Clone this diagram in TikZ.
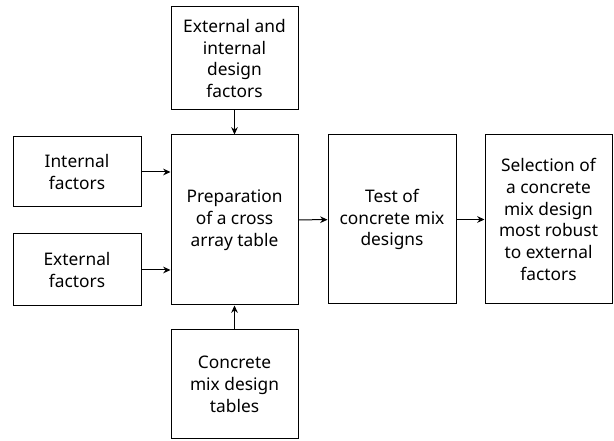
\documentclass[tikz,border=0pt]{standalone}
\usepackage{fontspec}
\setmainfont{Noto Sans}
\usepackage{tikz}
\usetikzlibrary{arrows.meta, calc}
\tikzset{
    block/.style={draw, line width=0.75pt, align=center, inner sep=0pt,
        font=\fontsize{13}{16.3}\selectfont},
    flow/.style={line width=0.75pt, -{Stealth[length=5.5pt, width=5pt]}}
}

\begin{document}
\begin{tikzpicture}[x=0.75pt, y=-0.75pt]
            \useasboundingbox (0,0) rectangle (614,441);

            % left inputs
            \node[block, minimum width=96pt, minimum height=52.5pt] (intern) at (77,172) {Internal\\factors};
            \node[block, minimum width=96pt, minimum height=54pt] (extern) at (77,270) {External\\factors};

            % middle column
            \node[block, minimum width=95.25pt, minimum height=77.25pt] (design) at (234.5,58.5) {External and\\internal\\design\\factors};
            \node[block, minimum width=95.25pt, minimum height=127.5pt] (prep) at (234.5,220) {Preparation\\of a cross\\array table};
            \node[block, minimum width=95.25pt, minimum height=81.75pt] (tables) at (234.5,384.5) {Concrete\\mix design\\tables};

            % right part
            \node[block, minimum width=96pt, minimum height=126.75pt] (test) at (392,219.5) {Test of\\concrete mix\\designs};
            \node[block, minimum width=95.25pt, minimum height=126.75pt] (select) at (548.5,219.5) {Selection of\\a concrete\\mix design\\most robust\\to external\\factors};

            % arrows
            \draw[flow] (intern.east) -- (intern.east -| prep.west);
            \draw[flow] (extern.east) -- (extern.east -| prep.west);
            \draw[flow] (design) -- (prep);
            \draw[flow] (tables) -- (prep);
            \draw[flow] (prep) -- (test);
            \draw[flow] (test) -- (select);
        \end{tikzpicture}
\end{document}
